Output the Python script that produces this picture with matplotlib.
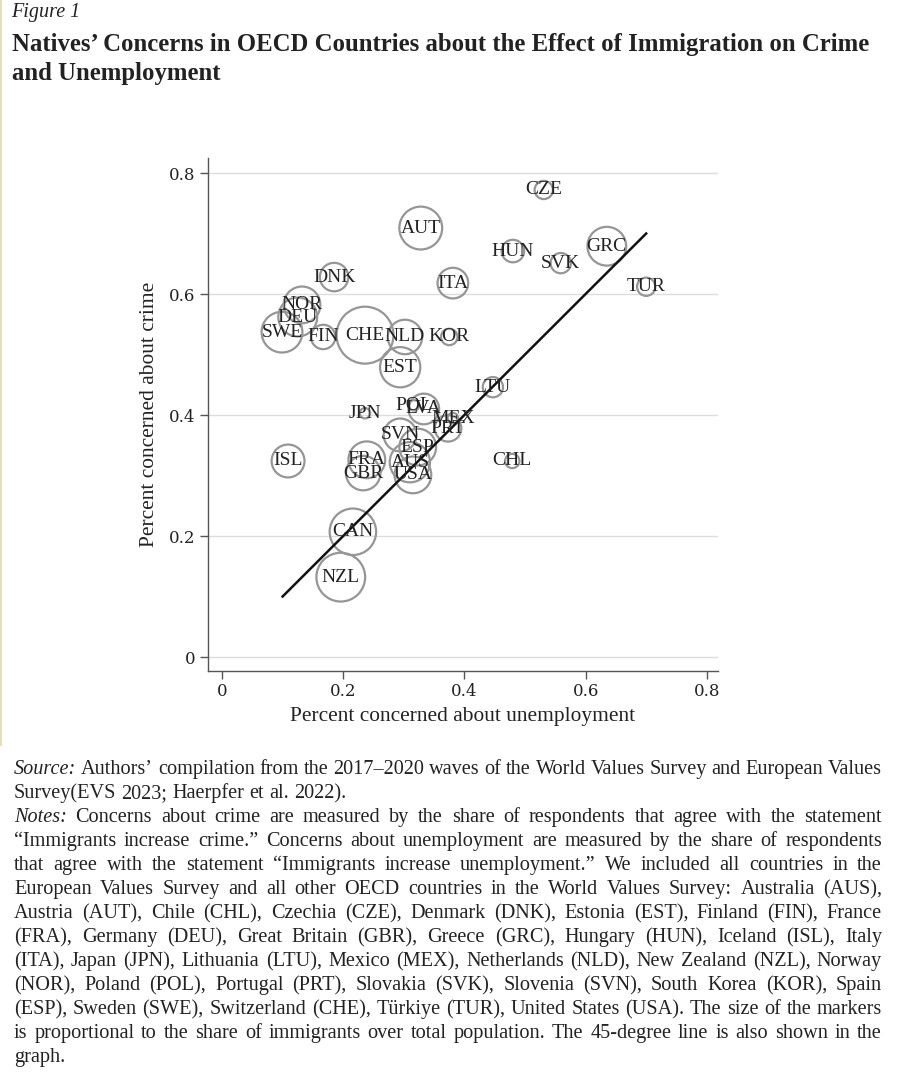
import matplotlib
matplotlib.use("Agg")
import matplotlib.pyplot as plt
from matplotlib.lines import Line2D

# ---------------- data ----------------
countries = ["CZE", "AUT", "HUN", "SVK", "GRC", "TUR", "ITA", "DNK", "NOR", "DEU",
             "SWE", "FIN", "CHE", "NLD", "KOR", "EST", "LTU", "JPN", "POL", "LVA",
             "MEX", "PRT", "SVN", "ESP", "FRA", "AUS", "GBR", "USA", "CHL", "ISL",
             "CAN", "NZL"]
unemployment = [0.531, 0.328, 0.480, 0.559, 0.635, 0.700, 0.381, 0.185, 0.132, 0.125,
                0.099, 0.167, 0.236, 0.302, 0.375, 0.294, 0.447, 0.236, 0.317, 0.333,
                0.381, 0.373, 0.294, 0.323, 0.239, 0.310, 0.233, 0.315, 0.479, 0.109,
                0.216, 0.196]
crime = [0.772, 0.709, 0.671, 0.651, 0.679, 0.612, 0.618, 0.628, 0.582, 0.562,
         0.537, 0.529, 0.532, 0.529, 0.529, 0.479, 0.446, 0.403, 0.416, 0.410,
         0.395, 0.378, 0.367, 0.347, 0.326, 0.322, 0.304, 0.301, 0.324, 0.324,
         0.207, 0.132]
immigrant_share = [3.1, 17.0, 4.7, 3.8, 13.9, 3.1, 8.7, 7.5, 12.5, 14.0,
                   15.4, 5.5, 30.0, 11.0, 2.5, 15.0, 3.8, 1.0, 1.0, 8.7,
                   1.0, 6.5, 10.0, 12.5, 12.5, 15.0, 11.0, 12.5, 1.9, 10.0,
                   20.0, 22.0]
line_range = [0.1, 0.7]
xticks = [0, 0.2, 0.4, 0.6, 0.8]
yticks = [0, 0.2, 0.4, 0.6, 0.8]
xlabel = "Percent concerned about unemployment"
ylabel = "Percent concerned about crime"

W, H = 898, 1080
fig = plt.figure(figsize=(W / 100, H / 100), dpi=100)
fig.patch.set_facecolor("white")

SERIF = ["Liberation Serif", "DejaVu Serif"]
TXT = "#222222"

def fx(px):
    return px / W

def fy(py):
    return 1 - py / H

# left border line
fig.add_artist(Line2D([fx(1), fx(1)], [fy(0), fy(745)], color="#e6dcc2", lw=1.5))

# ---------------- titles ----------------
fig.text(fx(11), fy(13), "Figure 1", family=SERIF, style="italic", fontsize=14.5,
         color=TXT, va="center", ha="left")
fig.text(fx(12), fy(44), "Natives’ Concerns in OECD Countries about the Effect of Immigration on Crime",
         family=SERIF, weight="bold", fontsize=17.8, color=TXT, va="center", ha="left")
fig.text(fx(12), fy(73), "and Unemployment",
         family=SERIF, weight="bold", fontsize=17.8, color=TXT, va="center", ha="left")

# ---------------- axes ----------------
ax = fig.add_axes([fx(208), fy(671), fx(718) - fx(208), fy(158) - fy(671)])
ax.set_xlim(-0.0231, 0.8185)
ax.set_ylim(-0.0231, 0.8248)
ax.spines["top"].set_visible(False)
ax.spines["right"].set_visible(False)
for s in ["left", "bottom"]:
    ax.spines[s].set_color("#555555")
    ax.spines[s].set_linewidth(1.0)
ax.set_xticks(xticks)
ax.set_yticks(yticks)
ax.set_xticklabels([("%g" % t) for t in xticks])
ax.set_yticklabels([("%g" % t) for t in yticks])
ax.tick_params(axis="both", direction="out", length=6, width=1.0, color="#555555",
               labelsize=12, labelcolor=TXT, pad=3)
for lab in ax.get_xticklabels() + ax.get_yticklabels():
    lab.set_family(["DejaVu Serif"])
for t in yticks:
    ax.axhline(t, color="#dddddd", lw=1.0, zorder=0)

ax.set_xlabel(xlabel, family=SERIF, fontsize=15.4, color=TXT, labelpad=5)
ax.set_ylabel(ylabel, family=SERIF, fontsize=15.4, color=TXT, labelpad=7)

sizes = [56 * s for s in immigrant_share]
ax.scatter(unemployment, crime, s=sizes, facecolors="none", edgecolors="#969696",
           linewidths=1.6, zorder=2)
ax.plot(line_range, line_range, color="#111111", lw=1.8, zorder=3)
for c, x, y in zip(countries, unemployment, crime):
    ax.text(x, y, c, family=SERIF, fontsize=14, color=TXT, ha="center", va="center",
            zorder=4)

# ---------------- notes (justified, word by word) ----------------
note_lines = [
    ([("Source:", "italic"), (" Authors’ compilation from the 2017–2020 waves of the World Values Survey and European Values", "normal")], True),
    ([("Survey(EVS 2023; Haerpfer et al. 2022).", "normal")], False),
    ([("Notes:", "italic"), (" Concerns about crime are measured by the share of respondents that agree with the statement", "normal")], True),
    ([("“Immigrants increase crime.” Concerns about unemployment are measured by the share of respondents", "normal")], True),
    ([("that agree with the statement “Immigrants increase unemployment.” We included all countries in the", "normal")], True),
    ([("European Values Survey and all other OECD countries in the World Values Survey: Australia (AUS),", "normal")], True),
    ([("Austria (AUT), Chile (CHL), Czechia (CZE), Denmark (DNK), Estonia (EST), Finland (FIN), France", "normal")], True),
    ([("(FRA), Germany (DEU), Great Britain (GBR), Greece (GRC), Hungary (HUN), Iceland (ISL), Italy", "normal")], True),
    ([("(ITA), Japan (JPN), Lithuania (LTU), Mexico (MEX), Netherlands (NLD), New Zealand (NZL), Norway", "normal")], True),
    ([("(NOR), Poland (POL), Portugal (PRT), Slovakia (SVK), Slovenia (SVN), South Korea (KOR), Spain", "normal")], True),
    ([("(ESP), Sweden (SWE), Switzerland (CHE), Türkiye (TUR), United States (USA). The size of the markers", "normal")], True),
    ([("is proportional to the share of immigrants over total population. The 45-degree line is also shown in the", "normal")], True),
    ([("graph.", "normal")], False),
]

renderer = fig.canvas.get_renderer()
X0, X1 = 14, 882
Y0, DY = 774, 24
NFS = 14.6

sp = fig.text(0, 0, "a a", family=SERIF, fontsize=NFS)
sp2 = fig.text(0, 0, "aa", family=SERIF, fontsize=NFS)
normal_gap = sp.get_window_extent(renderer=renderer).width - sp2.get_window_extent(renderer=renderer).width
sp.remove(); sp2.remove()

for i, (segs, justify) in enumerate(note_lines):
    words = []
    for txt, st in segs:
        for w in txt.split(" "):
            if w:
                words.append((w, st))
    y = fy(Y0 + i * DY)
    artists = []
    widths = []
    for w, st in words:
        t = fig.text(0, y, w, family=SERIF, style=st, fontsize=NFS, color=TXT,
                     va="baseline", ha="left")
        bb = t.get_window_extent(renderer=renderer)
        artists.append(t)
        widths.append(bb.width)
    total = sum(widths)
    if justify and len(words) > 1:
        gap = (X1 - X0 - total) / (len(words) - 1)
    else:
        gap = normal_gap
    xpos = X0
    for t, wd in zip(artists, widths):
        t.set_x(fx(xpos))
        xpos += wd + gap

fig.savefig("out.png", dpi=100, facecolor="white")
